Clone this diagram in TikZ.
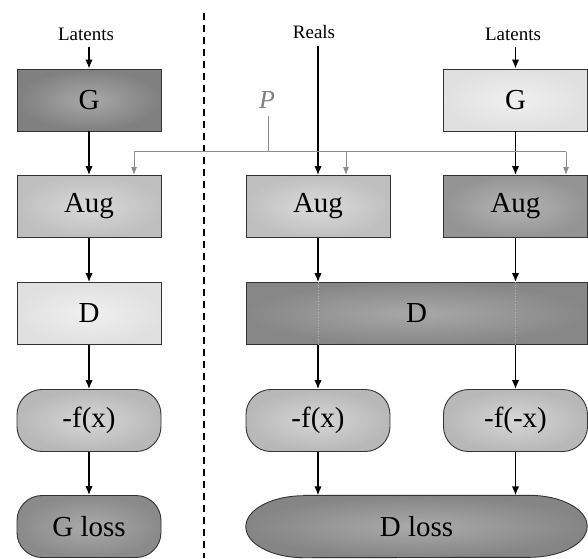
\documentclass[tikz,border=0pt]{standalone}
\usepackage{fontspec}
\setmainfont{Liberation Serif}
\usetikzlibrary{arrows.meta,calc}

\begin{document}
\begin{tikzpicture}[x=1pt,y=-1pt,
  tone/.style 2 args={inner color=#1, outer color=#2},
  blk/.style={draw=black!80, line width=0.9pt, minimum width=144pt,
    minimum height=62pt, inner sep=0pt, font=\fontsize{29}{31}\selectfont},
  pill/.style={blk, rounded corners=25pt},
  flow/.style={-{Latex[length=9pt,width=7.5pt]}, line width=1.5pt},
  pflow/.style={-{Latex[length=8pt,width=6pt]}, draw=black!45, line width=0.9pt},
  pline/.style={draw=black!45, line width=0.9pt},
  lbl/.style={font=\fontsize{19}{21}\selectfont, inner sep=0pt},
  sep/.style={line width=1.6pt, dash pattern=on 7pt off 5pt},
  split/.style={draw=black!30, line width=0.7pt, dotted}]

\useasboundingbox (0,0) rectangle (588,558);

% ---- generator update (left) ----
\node[lbl] (latL) at (86,34) {Latents};
\node[blk, tone={black!34}{black!50}] (gL) at (89,100) {G};
\node[blk, tone={black!15}{black!25}] (augL) at (89,206.5) {Aug};
\node[blk, tone={black!6}{black!12}] (dL) at (89,313.5) {D};
\node[pill, tone={black!16}{black!28}] (fL) at (89,420.5) {-f(x)};
\node[pill, tone={black!33}{black!46}] (gloss) at (89,526.5) {G loss};

\draw[flow] (latL.south -| gL.north) ++(0,6) -- (gL.north);
\draw[flow] (gL) -- (augL);
\draw[flow] (augL) -- (dL);
\draw[flow] (dL) -- (fL);
\draw[flow] (fL) -- (gloss);

% ---- separator ----
\coordinate (septop) at (204,13);
\coordinate (sepbot) at (204,558);
\draw[sep] (septop) -- (sepbot);

% ---- discriminator update (right) ----
\node[lbl] (reals) at (314,32) {Reals};
\node[lbl] (latR) at (513,34) {Latents};
\node[blk, tone={black!6}{black!12}] (gR) at (515.5,100) {G};
\node[blk, tone={black!14}{black!25}] (augM) at (318,206.5) {Aug};
\node[blk, tone={black!29}{black!42}] (augR) at (515.5,206.5) {Aug};
\node[blk, minimum width=341pt, tone={black!34}{black!47}] (dR) at (416.5,313.5) {D};
\node[pill, tone={black!16}{black!28}] (fM) at (318,420.5) {-f(x)};
\node[pill, tone={black!16}{black!28}] (fR) at (515.5,420.5) {-f(-x)};

% D loss: capsule with elliptical ends
\node[minimum width=341pt, minimum height=62pt, inner sep=0pt] (dloss) at (416.5,526.5) {};
\path[draw=black!80, line width=0.9pt, tone={black!33}{black!48}]
  ($(dloss.north west)+(58,0)$) -- ($(dloss.north east)+(-58,0)$)
  arc[start angle=90, end angle=-90, x radius=58pt, y radius=31pt]
  -- ($(dloss.south west)+(58,0)$)
  arc[start angle=270, end angle=90, x radius=58pt, y radius=31pt] -- cycle;
\node[font=\fontsize{29}{31}\selectfont] at (dloss) {D loss};

% dotted split lines through D
\draw[split] (augM.south |- dR.north) -- (augM.south |- dR.south);
\draw[split] (augR.south |- dR.north) -- (augR.south |- dR.south);

\draw[flow] (reals.south -| augM.north) ++(0,7) -- (augM.north);
\draw[flow] (latR.south -| gR.north) ++(0,6) -- (gR.north);
\draw[flow] (gR) -- (augR);
\draw[flow] (augM.south) -- (augM.south |- dR.north);
\draw[flow] (augR.south) -- (augR.south |- dR.north);
\draw[flow] (fM.north |- dR.south) -- (fM.north);
\draw[flow] (fR.north |- dR.south) -- (fR.north);
\draw[flow] (fM.south) -- (fM.south |- dloss.north);
\draw[flow] (fR.south) -- (fR.south |- dloss.north);

% ---- shared augmentation probability ----
\node[font=\fontsize{26}{28}\selectfont\itshape, text=black!50, inner sep=0pt] (P) at (267,100) {P};
\coordinate (pj) at (268,151.5);
\coordinate (pa) at (134,151.5);
\coordinate (pb) at (346,151.5);
\coordinate (pc) at (566,151.5);
\draw[pline] (pj |- P.south) ++(0,7) -- (pj);
\draw[pline] (pa) -- (pc);
\draw[pflow] (pa) -- (pa |- augL.north);
\draw[pflow] (pb) -- (pb |- augM.north);
\draw[pflow] (pc) -- (pc |- augR.north);

\end{tikzpicture}
\end{document}
